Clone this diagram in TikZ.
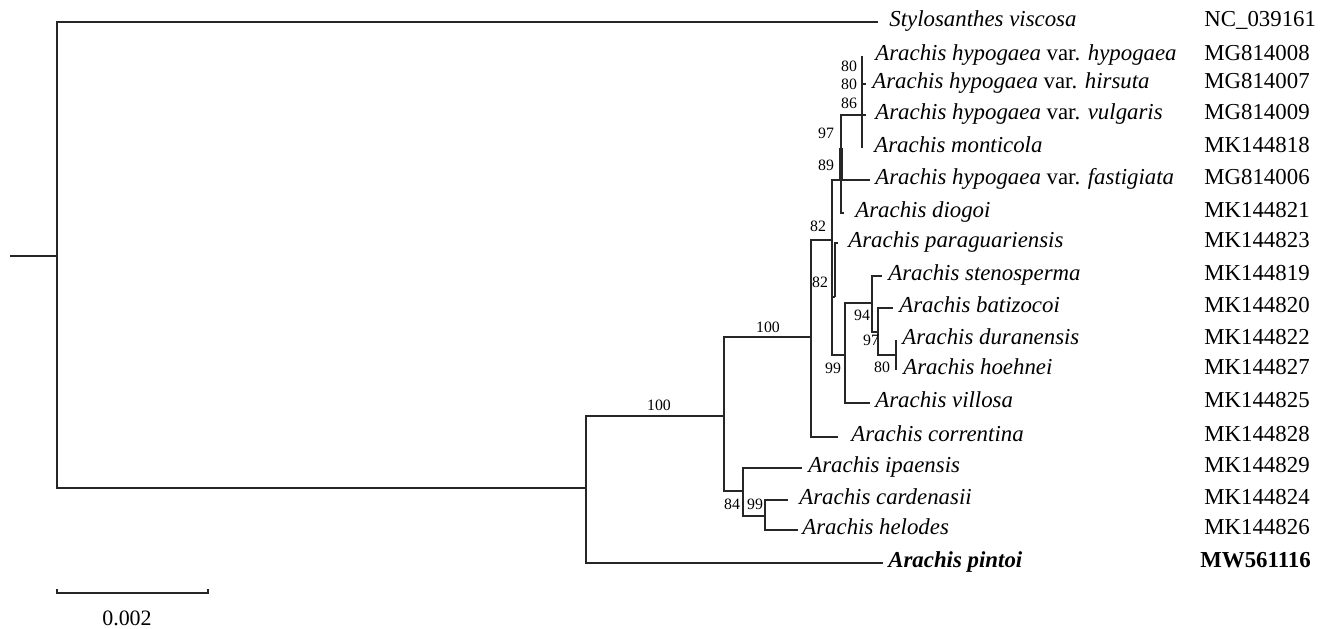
\documentclass[tikz,border=0pt]{standalone}
\usepackage{fontspec}
\setmainfont{Liberation Serif}
\usepackage{tikz}
\usetikzlibrary{positioning}
\tikzset{
  branch/.style={line width=1.15pt, draw=black!85},
  taxon/.style={
    inner sep=0pt, text height=0.7em, text depth=0.22em,
    font=\fontsize{13}{15}\selectfont\itshape
  },
  accno/.style={
    anchor=mid west, inner sep=0pt,
    font=\fontsize{13}{15}\selectfont
  },
  boot/.style={inner sep=0pt, font=\fontsize{9}{10}\selectfont},
  scalelbl/.style={inner sep=0pt, font=\fontsize{12.5}{14}\selectfont},
}

\begin{document}
\begin{tikzpicture}[x=0.02cm, y=-0.02cm]
  \useasboundingbox (0,0) rectangle (1326,629);

  % internal nodes
  \coordinate (rt) at (10,256);
  \coordinate (n0) at (57,256);
  \coordinate (n1) at (586,488);
  \coordinate (n2) at (724,416);
  \coordinate (n3) at (811,337);
  \coordinate (n4) at (743,491);
  \coordinate (n5) at (765,516);
  \coordinate (n6) at (832,240);
  \coordinate (n7) at (841,180);
  \coordinate (n7t) at (841,148);
  \coordinate (n9) at (862,115);
  \coordinate (n10) at (835,297);
  \coordinate (n8) at (845,355);
  \coordinate (n11) at (872,303);
  \coordinate (n12) at (878,332);
  \coordinate (n13) at (896,355);

  % leaf tips
  \coordinate (sty) at (878,22);
  \coordinate (hyp) at (862,56);
  \coordinate (hir) at (866,84);
  \coordinate (vul) at (866,115);
  \coordinate (mon) at (862,148);
  \coordinate (fas) at (870,180);
  \coordinate (dio) at (844,213);
  \coordinate (par) at (838,243);
  \coordinate (ste) at (882,276);
  \coordinate (bat) at (893,308);
  \coordinate (dur) at (896,340);
  \coordinate (hoe) at (896,370);
  \coordinate (vil) at (870,403);
  \coordinate (cor) at (838,437);
  \coordinate (ipa) at (802,468);
  \coordinate (car) at (788,500);
  \coordinate (hel) at (798,530);
  \coordinate (pin) at (883,563);

  % branches
  \draw[branch] (rt) -- (n0);
  \draw[branch] (n0) |- (sty);
  \draw[branch] (n0) |- (n1);
  \draw[branch] (n1) |- (n2);
  \draw[branch] (n1) |- (pin);
  \draw[branch] (n2) |- (n3);
  \draw[branch] (n2) |- (n4);
  \draw[branch] (n4) |- (ipa);
  \draw[branch] (n4) |- (n5);
  \draw[branch] (n5) |- (car);
  \draw[branch] (n5) |- (hel);
  \draw[branch] (n3) |- (n6);
  \draw[branch] (n3) |- (cor);
  \draw[branch] (n6) |- (n7);
  \draw[branch] (n6) |- (n10);
  \draw[branch] (n6) |- (n8);
  \draw[branch, line width=1.9pt] (n7) -- (n7t);
  \draw[branch] (n7) |- (n9);
  \draw[branch] (n7) |- (fas);
  \draw[branch] (n7) |- (dio);
  \draw[branch] (n9) |- (hyp);
  \draw[branch] (n9) |- (hir);
  \draw[branch] (n9) |- (vul);
  \draw[branch] (n9) |- (mon);
  \draw[branch] (n10) |- (par);
  \draw[branch] (n8) |- (n11);
  \draw[branch] (n8) |- (vil);
  \draw[branch] (n11) |- (ste);
  \draw[branch] (n11) |- (n12);
  \draw[branch] (n12) |- (bat);
  \draw[branch] (n12) |- (n13);
  \draw[branch] (n13) |- (dur);
  \draw[branch] (n13) |- (hoe);

  % taxa
  \node[taxon, right=0.22cm of sty] (tsty) {Stylosanthes viscosa};
  \node[taxon, right=0.26cm of hyp] (thyp) {Arachis hypogaea \textup{var.} hypogaea};
  \node[taxon, right=0.12cm of hir] (thir) {Arachis hypogaea \textup{var.} hirsuta};
  \node[taxon, right=0.18cm of vul] (tvul) {Arachis hypogaea \textup{var.} vulgaris};
  \node[taxon, right=0.24cm of mon] (tmon) {Arachis monticola};
  \node[taxon, right=0.1cm of fas] (tfas) {Arachis hypogaea \textup{var.} fastigiata};
  \node[taxon, right=0.22cm of dio] (tdio) {Arachis diogoi};
  \node[taxon, right=0.2cm of par] (tpar) {Arachis paraguariensis};
  \node[taxon, right=0.12cm of ste] (tste) {Arachis stenosperma};
  \node[taxon, right=0.12cm of bat] (tbat) {Arachis batizocoi};
  \node[taxon, right=0.12cm of dur] (tdur) {Arachis duranensis};
  \node[taxon, right=0.14cm of hoe] (thoe) {Arachis hoehnei};
  \node[taxon, right=0.1cm of vil] (tvil) {Arachis villosa};
  \node[taxon, right=0.26cm of cor] (tcor) {Arachis correntina};
  \node[taxon, right=0.12cm of ipa] (tipa) {Arachis ipaensis};
  \node[taxon, right=0.22cm of car] (tcar) {Arachis cardenasii};
  \node[taxon, right=0.08cm of hel] (thel) {Arachis helodes};
  \node[taxon, right=0.1cm of pin] (tpin) {\bfseries Arachis pintoi};

  % accession numbers
  \node[accno] (asty) at (1204,22) {NC\_039161};
  \node[accno] (ahyp) at (1204,56) {MG814008};
  \node[accno] (ahir) at (1204,84) {MG814007};
  \node[accno] (avul) at (1204,115) {MG814009};
  \node[accno] (amon) at (1204,148) {MK144818};
  \node[accno] (afas) at (1204,180) {MG814006};
  \node[accno] (adio) at (1204,213) {MK144821};
  \node[accno] (apar) at (1204,243) {MK144823};
  \node[accno] (aste) at (1204,276) {MK144819};
  \node[accno] (abat) at (1204,308) {MK144820};
  \node[accno] (adur) at (1204,340) {MK144822};
  \node[accno] (ahoe) at (1204,370) {MK144827};
  \node[accno] (avil) at (1204,403) {MK144825};
  \node[accno] (acor) at (1204,437) {MK144828};
  \node[accno] (aipa) at (1204,468) {MK144829};
  \node[accno] (acar) at (1204,500) {MK144824};
  \node[accno] (ahel) at (1204,530) {MK144826};
  \node[accno, font=\fontsize{13}{15}\selectfont\bfseries] (apin) at (1200,563) {MW561116};

  % bootstrap values
  \node[boot] (b1) at (849,66) {80};
  \node[boot] (b2) at (849,84) {80};
  \node[boot] (b3) at (849,103) {86};
  \node[boot] (b4) at (826,133) {97};
  \node[boot] (b5) at (826,165) {89};
  \node[boot] (b6) at (818,226) {82};
  \node[boot] (b7) at (820,282) {82};
  \node[boot] (b8) at (862,315) {94};
  \node[boot] (b9) at (871,340) {97};
  \node[boot] (b10) at (882,367) {80};
  \node[boot] (b11) at (833,368) {99};
  \node[boot] (b12) at (768,327) {100};
  \node[boot] (b13) at (659,405) {100};
  \node[boot] (b14) at (732,504) {84};
  \node[boot] (b15) at (755,504) {99};

  % scale bar
  \coordinate (sb1) at (57,593);
  \coordinate (sb2) at (208,593);
  \draw[branch] (sb1) ++(0,-4) -- (sb1) -- (sb2) -- ++(0,-4);
  \node[scalelbl] (sbl) at (127,618) {0.002};
\end{tikzpicture}
\end{document}
